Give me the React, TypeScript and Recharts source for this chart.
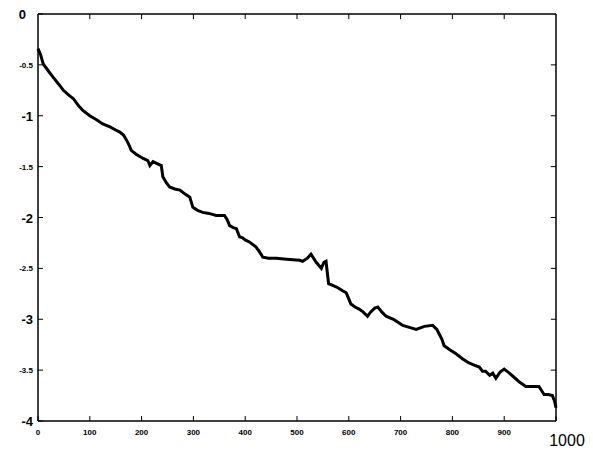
import { LineChart, Line, XAxis, YAxis, ReferenceLine } from 'recharts'

const steps = [
    0, 5, 10, 20, 29, 40, 49, 60, 68, 78, 87, 100, 113, 125, 139, 150, 158, 165, 171, 176,
    180, 190, 203, 212, 216, 222, 230, 238, 241, 248, 254, 264, 274, 284, 293, 299, 308, 318, 330, 344,
    360, 365, 370, 377, 383, 389, 395, 400, 408, 421, 428, 434, 445, 460, 480, 505, 511, 520, 527, 532,
    537, 542, 547, 552, 556, 561, 570, 579, 588, 595, 600, 604, 612, 620, 628, 636, 642, 650, 656, 664,
    672, 686, 695, 704, 717, 730, 746, 762, 770, 775, 780, 784, 795, 807, 820, 832, 842, 852, 858, 864,
    872, 878, 884, 892, 900, 910, 919, 930, 942, 955, 967, 972, 977, 985, 993, 997, 1000,
]

const values = [
    -0.34, -0.40, -0.49, -0.56, -0.62, -0.69, -0.75, -0.80, -0.83, -0.90, -0.95, -1.00, -1.04, -1.08, -1.11, -1.14, -1.16, -1.19, -1.24, -1.29,
    -1.34, -1.38, -1.42, -1.44, -1.49, -1.45, -1.47, -1.49, -1.60, -1.66, -1.70, -1.72, -1.73, -1.77, -1.80, -1.90, -1.93, -1.95, -1.96, -1.98,
    -1.98, -2.02, -2.08, -2.10, -2.11, -2.19, -2.20, -2.22, -2.24, -2.29, -2.34, -2.39, -2.40, -2.40, -2.41, -2.42, -2.43, -2.40, -2.36, -2.40,
    -2.44, -2.47, -2.50, -2.44, -2.43, -2.65, -2.67, -2.69, -2.72, -2.74, -2.80, -2.85, -2.88, -2.90, -2.93, -2.97, -2.93, -2.89, -2.88, -2.93,
    -2.97, -3.00, -3.03, -3.06, -3.08, -3.10, -3.07, -3.06, -3.10, -3.15, -3.20, -3.26, -3.30, -3.34, -3.39, -3.43, -3.45, -3.47, -3.51, -3.51,
    -3.55, -3.53, -3.58, -3.52, -3.49, -3.53, -3.57, -3.62, -3.66, -3.66, -3.66, -3.70, -3.74, -3.74, -3.75, -3.80, -3.87,
]

const xTicks = [0, 100, 200, 300, 400, 500, 600, 700, 800, 900, 1000]
const yTicks = [0, -0.5, -1, -1.5, -2, -2.5, -3, -3.5, -4]

const data = steps.map((s, i) => ({ step: s, value: values[i] }))

const FONT = 'Liberation Sans, Arial, sans-serif'

function BottomTick({ x, y, payload }: any) {
    const v = payload.value
    const big = v === 1000
    return (
        <g>
            <line x1={x} x2={x} y1={y} y2={y - 5} stroke="#000" strokeWidth={1} />
            {big ? (
                <text x={x + 11} y={y + 25} textAnchor="middle" fontSize={16} fontFamily={FONT} fill="#000">
                    {v}
                </text>
            ) : (
                <text x={x} y={y + 14} textAnchor="middle" fontSize={8} fontWeight="bold" fontFamily={FONT} fill="#000">
                    {v}
                </text>
            )}
        </g>
    )
}

function LeftTick({ x, y, payload }: any) {
    const v = payload.value
    const whole = Number.isInteger(v)
    return (
        <g>
            <line x1={x} x2={x + 5} y1={y} y2={y} stroke="#000" strokeWidth={1} />
            <text
                x={v === 0 ? x - 12 : x - 5}
                y={y + (whole ? 5 : 3)}
                textAnchor="end"
                fontSize={whole ? 13 : 8}
                fontWeight="bold"
                fontFamily={FONT}
                fill="#000"
            >
                {String(v)}
            </text>
        </g>
    )
}

export default function App() {
    return (
        <div style={{ position: 'absolute', left: 0, top: 0, width: 593, height: 454, background: '#fff' }}>
            <LineChart width={593} height={454} data={data} margin={{ top: 14, right: 37, bottom: 8, left: 8 }}>
                <XAxis
                    dataKey="step"
                    type="number"
                    domain={[0, 1000]}
                    ticks={xTicks}
                    tick={<BottomTick />}
                    tickSize={0}
                    tickMargin={0}
                    height={25}
                    stroke="#000"
                    strokeWidth={1.5}
                    interval={0}
                />
                <YAxis
                    type="number"
                    domain={[-4, 0]}
                    ticks={yTicks}
                    tick={<LeftTick />}
                    tickSize={0}
                    tickMargin={0}
                    width={30}
                    stroke="#000"
                    strokeWidth={1.5}
                    interval={0}
                />
                {/* frame on top and right */}
                <ReferenceLine y={0} stroke="#000" strokeWidth={1.5} />
                <ReferenceLine x={1000} stroke="#000" strokeWidth={1.5} />
                {/* inward ticks on top and right edges */}
                {xTicks.slice(1, -1).map((t) => (
                    <ReferenceLine key={'tx' + t} segment={[{ x: t, y: 0 }, { x: t, y: -0.05 }]} stroke="#000" strokeWidth={1} />
                ))}
                {yTicks.slice(1, -1).map((t) => (
                    <ReferenceLine key={'ty' + t} segment={[{ x: 1000, y: t }, { x: 990, y: t }]} stroke="#000" strokeWidth={1} />
                ))}
                <Line
                    type="linear"
                    dataKey="value"
                    stroke="#000"
                    strokeWidth={3}
                    dot={false}
                    isAnimationActive={false}
                />
            </LineChart>
        </div>
    )
}
